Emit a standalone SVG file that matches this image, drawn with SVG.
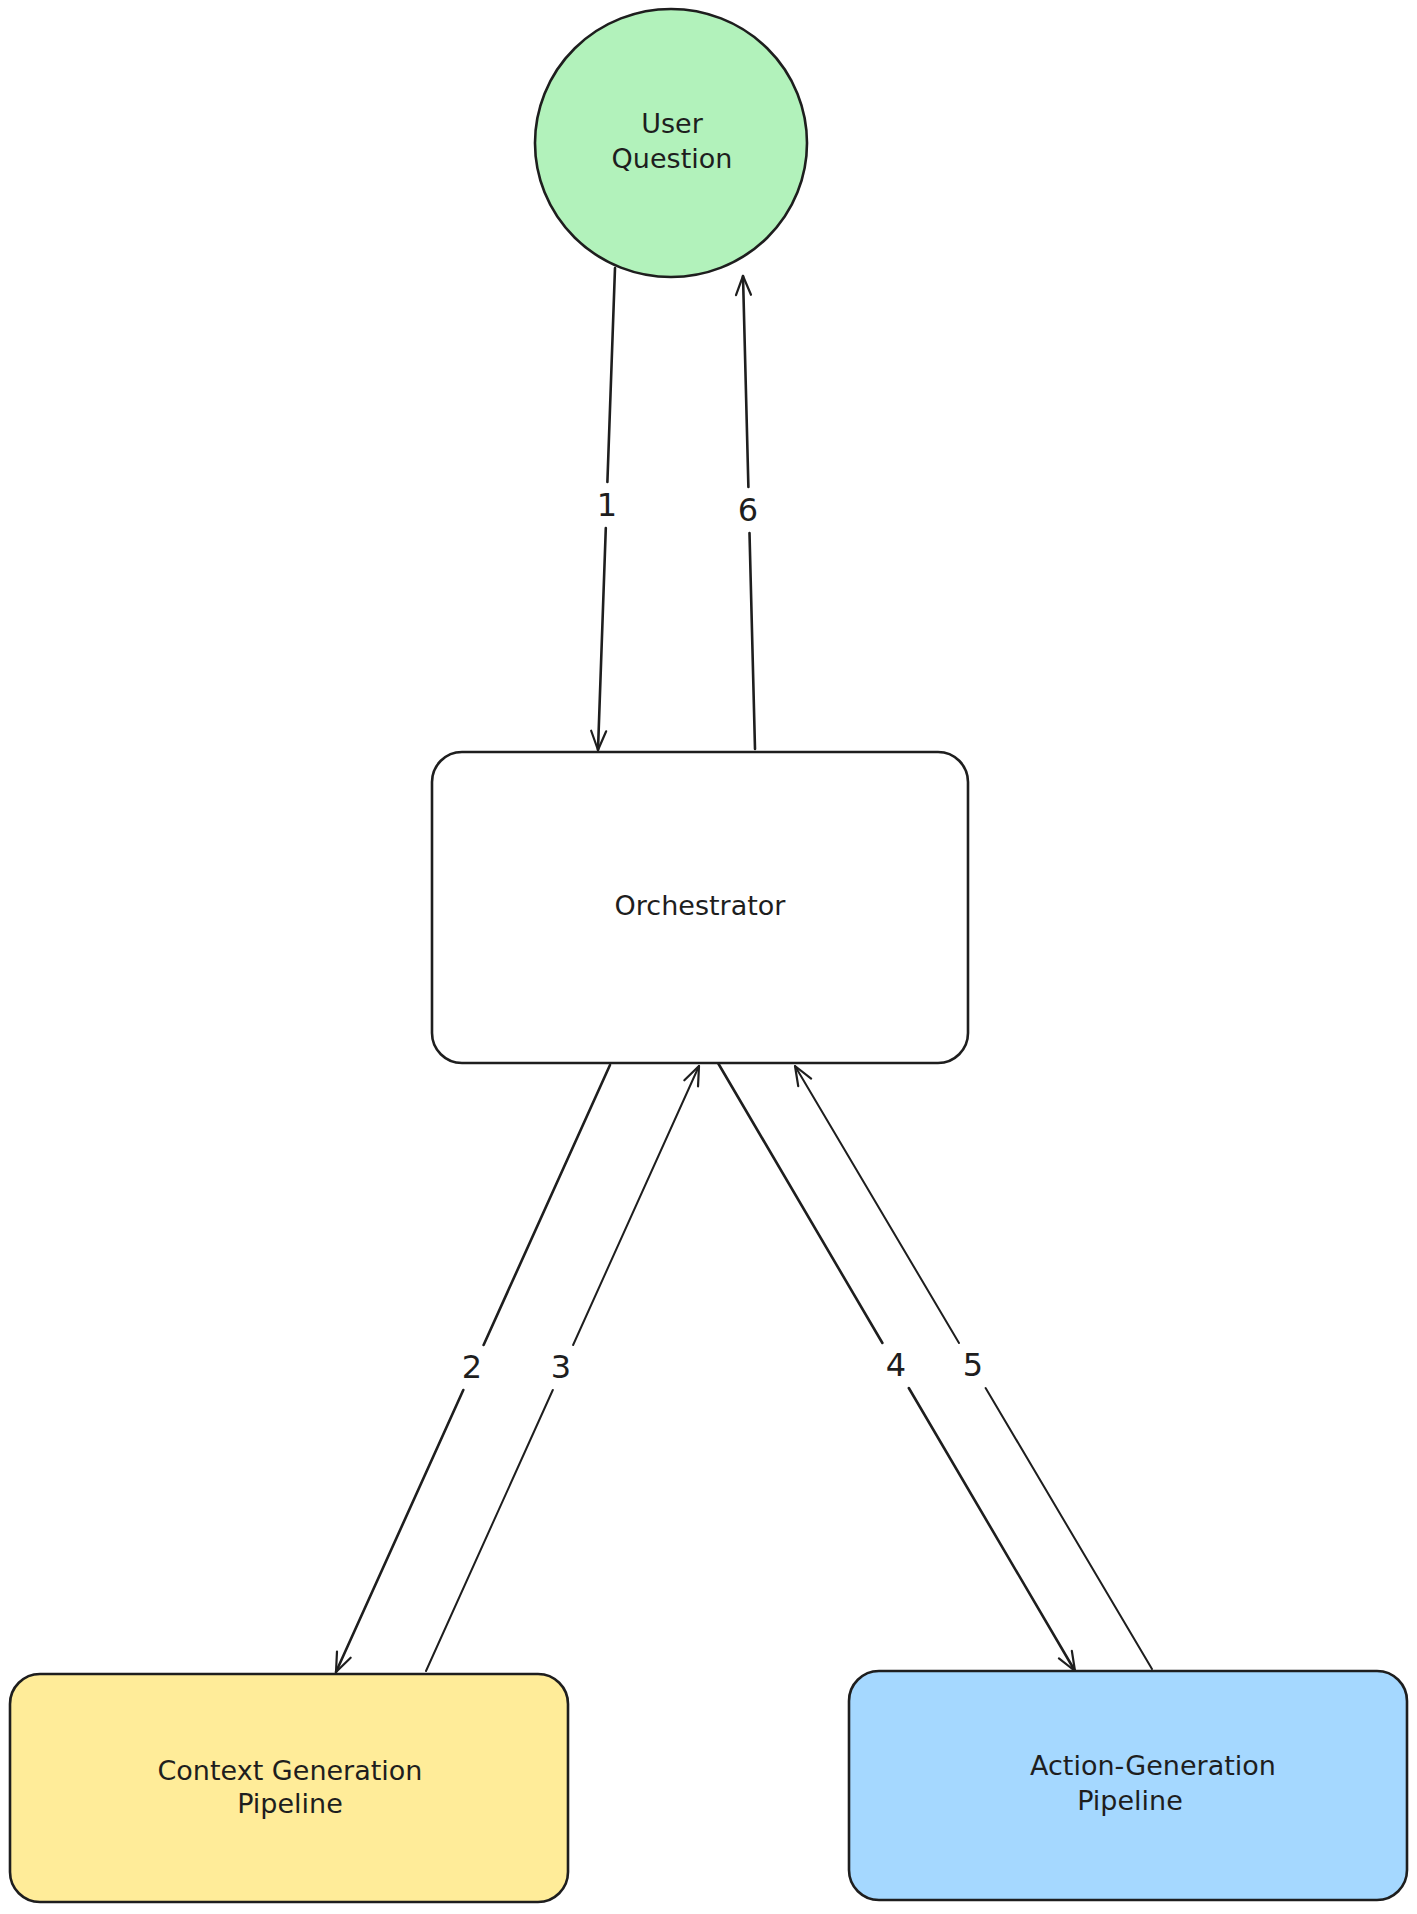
<svg xmlns="http://www.w3.org/2000/svg" width="1417" height="1914" viewBox="0 0 1417 1914">
  <defs>
    <marker id="arrow" viewBox="-22 -12 26 24" refX="0" refY="0" markerWidth="26" markerHeight="24" markerUnits="userSpaceOnUse" orient="auto">
      <path d="M -19 -7.5 L 0 0 L -19 7.5" fill="none" stroke="#1e1e1e" stroke-width="2.2" stroke-linecap="round" stroke-linejoin="round"/>
    </marker>
    <style>
      .shape { stroke: #1e1e1e; stroke-width: 2.6; }
      .label { font-family: "DejaVu Sans", "Liberation Sans", sans-serif; font-size: 27px; fill: #1e1e1e; text-anchor: middle; }
      .num { font-family: "DejaVu Sans", "Liberation Sans", sans-serif; font-size: 32px; fill: #1e1e1e; text-anchor: middle; dominant-baseline: central; }
      .conn { fill: none; stroke: #1e1e1e; stroke-width: 2.6; stroke-linecap: round; marker-end: url(#arrow); }
      .thin { stroke-width: 2; }
    </style>
  </defs>
  <rect width="1417" height="1914" fill="#ffffff"/>

  <g id="connectors">
    <path class="conn" d="M 615 268 L 607.4 482 M 605.8 528 L 598 750"/>
    <path class="conn" d="M 755 749 L 749.5 533 M 748.4 487 L 743 276"/>
    <path class="conn" d="M 610 1065 L 483.6 1345 M 463.3 1390 L 336 1672"/>
    <path class="conn thin" d="M 426 1671 L 552.8 1390 M 573.1 1345 L 699 1066"/>
    <path class="conn" d="M 718 1063 L 882.4 1343 M 908.8 1388 L 1075 1671"/>
    <path class="conn thin" d="M 1152 1669 L 985.6 1388 M 959 1343 L 795 1066"/>
    <text class="num" x="607" y="505">1</text>
    <text class="num" x="748" y="510">6</text>
    <text class="num" x="472" y="1367">2</text>
    <text class="num" x="561" y="1367">3</text>
    <text class="num" x="896" y="1365">4</text>
    <text class="num" x="973" y="1365">5</text>
  </g>

  <g id="user-question">
    <ellipse class="shape" cx="671" cy="143" rx="136" ry="134" fill="#b2f2bb"/>
    <text class="label" x="672" y="133">User</text>
    <text class="label" x="672" y="168">Question</text>
  </g>

  <g id="orchestrator">
    <rect class="shape" x="432" y="752" width="536" height="311" rx="30" ry="30" fill="#ffffff"/>
    <text class="label" x="700" y="915">Orchestrator</text>
  </g>

  <g id="context-generation">
    <rect class="shape" x="10" y="1674" width="558" height="228" rx="30" ry="30" fill="#ffec99"/>
    <text class="label" x="290" y="1780">Context Generation</text>
    <text class="label" x="290" y="1813">Pipeline</text>
  </g>

  <g id="action-generation">
    <rect class="shape" x="849" y="1671" width="558" height="229" rx="30" ry="30" fill="#a5d8ff"/>
    <text class="label" x="1153" y="1775">Action-Generation</text>
    <text class="label" x="1130" y="1810">Pipeline</text>
  </g>
</svg>
